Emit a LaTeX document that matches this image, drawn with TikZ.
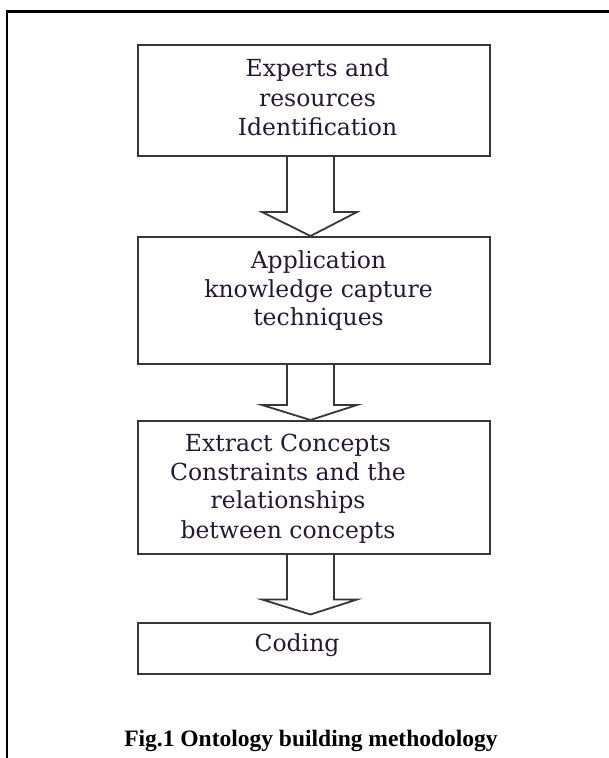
\documentclass[tikz,border=0pt]{standalone}
\usepackage{fontspec}
\setmainfont{Liberation Serif}
\newfontfamily\boxfont{DejaVu Serif}
\usetikzlibrary{calc}
\definecolor{boxtext}{RGB}{38,24,52}
\definecolor{linegray}{RGB}{55,55,55}
\tikzset{
  stepbox/.style={draw=linegray, line width=2pt, rectangle, minimum width=352pt, inner sep=0pt},
  boxline/.style={anchor=base, inner sep=0pt, font=\boxfont\fontsize{23.5}{29}\selectfont, text=boxtext},
  barrow/.style={draw=linegray, line width=1.8pt, fill=white, line join=miter},
  frameline/.style={draw=black, line width=2.2pt}
}
\newcommand\blockarrow[4]{% from, to, head height, gap at tip
  \draw[barrow] ($(#1.south -| ax)+(-23.5,0)$) -- ($(#2.north -| ax)+(-23.5,-#3-#4)$)
    -- ($(#2.north -| ax)+(-48.5,-#3-#4)$) -- ($(#2.north -| ax)+(0,-#4)$)
    -- ($(#2.north -| ax)+(46.5,-#3-#4)$) -- ($(#2.north -| ax)+(23.5,-#3-#4)$)
    -- ($(#1.south -| ax)+(23.5,0)$);}
\begin{document}
\begin{tikzpicture}[x=1pt, y=-1pt]
\useasboundingbox (0,0) rectangle (609,758);
% frame
\coordinate (fbl) at (7,760);
\coordinate (ftl) at (7,11.5);
\coordinate (ftr) at (611,11.5);
\draw[frameline] (fbl) -- (ftl) -- (ftr);
% boxes
\node[stepbox, minimum height=111pt] (b1) at (314,100.5) {};
\node[stepbox, minimum height=127pt] (b2) at (314,300.5) {};
\node[stepbox, minimum height=133pt] (b3) at (314,487.5) {};
\node[stepbox, minimum height=51pt]  (b4) at (314,648.5) {};
% texts
\node[boxline] (t11) at (317.5,76.7) {Experts and};
\node[boxline] (t12) at (317.5,106.7) {resources};
\node[boxline] (t13) at (317.5,135) {Identification};
\node[boxline] (t21) at (318.5,268) {Application};
\node[boxline] (t22) at (318.5,297) {knowledge capture};
\node[boxline] (t23) at (318.5,325) {techniques};
\node[boxline] (t31) at (288,451.7) {Extract Concepts};
\node[boxline] (t32) at (288,480) {Constraints and the};
\node[boxline] (t33) at (288,508) {relationships};
\node[boxline] (t34) at (288,538) {between concepts};
\node[boxline] (t41) at (297,651.7) {Coding};
% arrows
\coordinate (ax) at (310.5,0);
\blockarrow{b1}{b2}{24}{0}
\blockarrow{b2}{b3}{15}{0}
\blockarrow{b3}{b4}{15}{7.5}
% caption
\node[anchor=base, inner sep=0pt, font=\bfseries\fontsize{23.5}{28}\selectfont] (cap) at (311,746.5) {Fig.1 Ontology building methodology};
\end{tikzpicture}
\end{document}
